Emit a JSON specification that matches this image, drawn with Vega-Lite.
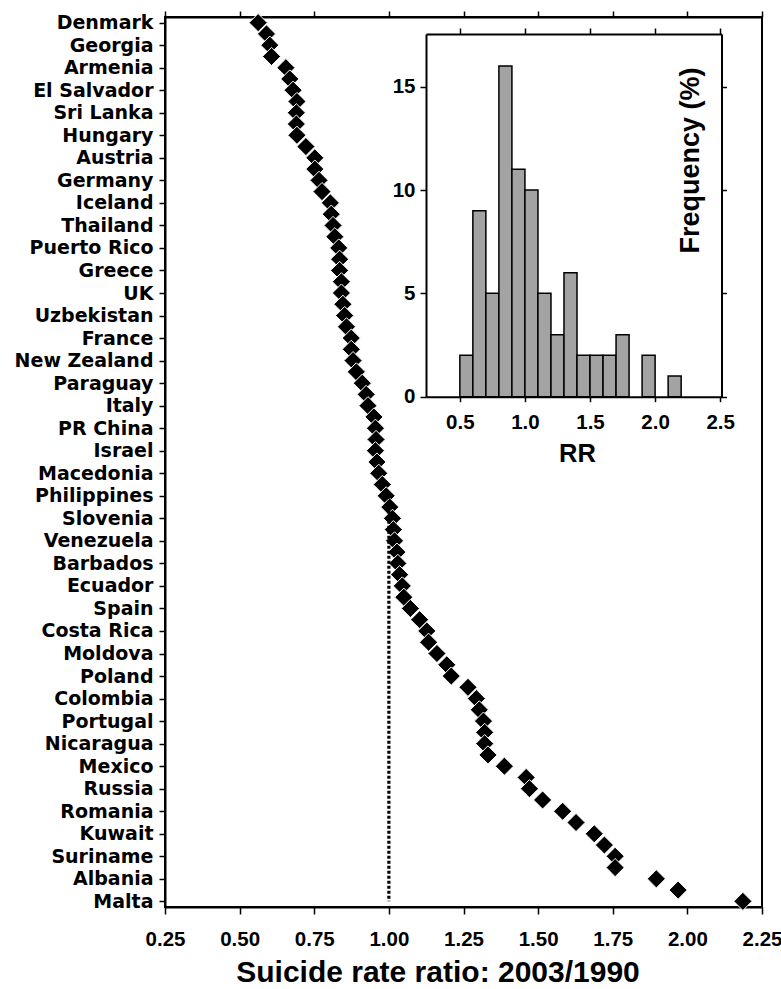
{
  "$schema": "https://vega.github.io/schema/vega-lite/v6.json",
  "width": 597,
  "height": 890,
  "autosize": {"type": "none"},
  "padding": {"left": 165, "top": 17, "right": 19, "bottom": 82},
  "background": "white",
  "datasets": {
    "countries": [
      {"rank": 1, "country": "Denmark", "rr": 0.562},
      {"rank": 2, "country": "#2", "rr": 0.590},
      {"rank": 3, "country": "Georgia", "rr": 0.601},
      {"rank": 4, "country": "#4", "rr": 0.607},
      {"rank": 5, "country": "Armenia", "rr": 0.655},
      {"rank": 6, "country": "#6", "rr": 0.668},
      {"rank": 7, "country": "El Salvador", "rr": 0.679},
      {"rank": 8, "country": "#8", "rr": 0.692},
      {"rank": 9, "country": "Sri Lanka", "rr": 0.690},
      {"rank": 10, "country": "#10", "rr": 0.690},
      {"rank": 11, "country": "Hungary", "rr": 0.692},
      {"rank": 12, "country": "#12", "rr": 0.722},
      {"rank": 13, "country": "Austria", "rr": 0.752},
      {"rank": 14, "country": "#14", "rr": 0.752},
      {"rank": 15, "country": "Germany", "rr": 0.766},
      {"rank": 16, "country": "#16", "rr": 0.776},
      {"rank": 17, "country": "Iceland", "rr": 0.804},
      {"rank": 18, "country": "#18", "rr": 0.807},
      {"rank": 19, "country": "Thailand", "rr": 0.813},
      {"rank": 20, "country": "#20", "rr": 0.819},
      {"rank": 21, "country": "Puerto Rico", "rr": 0.832},
      {"rank": 22, "country": "#22", "rr": 0.835},
      {"rank": 23, "country": "Greece", "rr": 0.835},
      {"rank": 24, "country": "#24", "rr": 0.841},
      {"rank": 25, "country": "UK", "rr": 0.841},
      {"rank": 26, "country": "#26", "rr": 0.846},
      {"rank": 27, "country": "Uzbekistan", "rr": 0.852},
      {"rank": 28, "country": "#28", "rr": 0.858},
      {"rank": 29, "country": "France", "rr": 0.874},
      {"rank": 30, "country": "#30", "rr": 0.874},
      {"rank": 31, "country": "New Zealand", "rr": 0.880},
      {"rank": 32, "country": "#32", "rr": 0.891},
      {"rank": 33, "country": "Paraguay", "rr": 0.911},
      {"rank": 34, "country": "#34", "rr": 0.924},
      {"rank": 35, "country": "Italy", "rr": 0.930},
      {"rank": 36, "country": "#36", "rr": 0.950},
      {"rank": 37, "country": "PR China", "rr": 0.955},
      {"rank": 38, "country": "#38", "rr": 0.957},
      {"rank": 39, "country": "Israel", "rr": 0.955},
      {"rank": 40, "country": "#40", "rr": 0.960},
      {"rank": 41, "country": "Macedonia", "rr": 0.966},
      {"rank": 42, "country": "#42", "rr": 0.978},
      {"rank": 43, "country": "Philippines", "rr": 0.991},
      {"rank": 44, "country": "#44", "rr": 1.003},
      {"rank": 45, "country": "Slovenia", "rr": 1.012},
      {"rank": 46, "country": "#46", "rr": 1.015},
      {"rank": 47, "country": "Venezuela", "rr": 1.019},
      {"rank": 48, "country": "#48", "rr": 1.027},
      {"rank": 49, "country": "Barbados", "rr": 1.030},
      {"rank": 50, "country": "#50", "rr": 1.036},
      {"rank": 51, "country": "Ecuador", "rr": 1.045},
      {"rank": 52, "country": "#52", "rr": 1.050},
      {"rank": 53, "country": "Spain", "rr": 1.072},
      {"rank": 54, "country": "#54", "rr": 1.103},
      {"rank": 55, "country": "Costa Rica", "rr": 1.127},
      {"rank": 56, "country": "#56", "rr": 1.133},
      {"rank": 57, "country": "Moldova", "rr": 1.161},
      {"rank": 58, "country": "#58", "rr": 1.194},
      {"rank": 59, "country": "Poland", "rr": 1.209},
      {"rank": 60, "country": "#60", "rr": 1.265},
      {"rank": 61, "country": "Colombia", "rr": 1.293},
      {"rank": 62, "country": "#62", "rr": 1.303},
      {"rank": 63, "country": "Portugal", "rr": 1.317},
      {"rank": 64, "country": "#64", "rr": 1.321},
      {"rank": 65, "country": "Nicaragua", "rr": 1.321},
      {"rank": 66, "country": "#66", "rr": 1.332},
      {"rank": 67, "country": "Mexico", "rr": 1.387},
      {"rank": 68, "country": "#68", "rr": 1.460},
      {"rank": 69, "country": "Russia", "rr": 1.471},
      {"rank": 70, "country": "#70", "rr": 1.515},
      {"rank": 71, "country": "Romania", "rr": 1.582},
      {"rank": 72, "country": "#72", "rr": 1.627},
      {"rank": 73, "country": "Kuwait", "rr": 1.688},
      {"rank": 74, "country": "#74", "rr": 1.722},
      {"rank": 75, "country": "Suriname", "rr": 1.758},
      {"rank": 76, "country": "#76", "rr": 1.758},
      {"rank": 77, "country": "Albania", "rr": 1.896},
      {"rank": 78, "country": "#78", "rr": 1.969},
      {"rank": 79, "country": "Malta", "rr": 2.186}
    ],
    "hist": [
      {"bin_start": 0.5, "bin_end": 0.6, "pct": 2},
      {"bin_start": 0.6, "bin_end": 0.7, "pct": 9},
      {"bin_start": 0.7, "bin_end": 0.8, "pct": 5},
      {"bin_start": 0.8, "bin_end": 0.9, "pct": 16},
      {"bin_start": 0.9, "bin_end": 1.0, "pct": 11},
      {"bin_start": 1.0, "bin_end": 1.1, "pct": 10},
      {"bin_start": 1.1, "bin_end": 1.2, "pct": 5},
      {"bin_start": 1.2, "bin_end": 1.3, "pct": 3},
      {"bin_start": 1.3, "bin_end": 1.4, "pct": 6},
      {"bin_start": 1.4, "bin_end": 1.5, "pct": 2},
      {"bin_start": 1.5, "bin_end": 1.6, "pct": 2},
      {"bin_start": 1.6, "bin_end": 1.7, "pct": 2},
      {"bin_start": 1.7, "bin_end": 1.8, "pct": 3},
      {"bin_start": 1.9, "bin_end": 2.0, "pct": 2},
      {"bin_start": 2.1, "bin_end": 2.2, "pct": 1}
    ]
  },
  "layer": [
    {
      "layer": [
        {
          "data": {"name": "countries"},
          "mark": {"type": "point", "shape": "diamond", "filled": true, "fill": "black", "stroke": "white", "strokeWidth": 1, "size": 330, "opacity": 1},
          "encoding": {
            "x": {"field": "rr", "type": "quantitative",
              "scale": {"domain": [0.25, 2.25], "nice": false, "zero": false},
              "axis": {"orient": "bottom", "values": [0.25, 0.5, 0.75, 1, 1.25, 1.5, 1.75, 2, 2.25], "format": ".2f",
                "tickSize": 7, "labelBaseline": "alphabetic", "labelPadding": 31, "labelFontSize": 20.5, "labelFlush": false,
                "title": "Suicide rate ratio: 2003/1990", "titleFontSize": 30, "titleBaseline": "alphabetic", "titleY": 74, "titleX": 272.5}},
            "y": {"field": "country", "type": "nominal", "sort": null, "scale": {"type": "point", "padding": 0.5},
              "axis": {"orient": "left", "title": null, "tickSize": 6, "labelPadding": 6,
                "labelFont": "DejaVu Sans", "labelFontSize": 19, "labelFontWeight": "bold",
                "labelExpr": "indexof(datum.label, '#') === 0 ? '' : datum.label",
                "tickOpacity": {"condition": {"test": "indexof(datum.value, '#') === 0", "value": 0}, "value": 1}}},
            "order": {"field": "rank", "type": "quantitative"}
          }
        },
        {
          "data": {"name": "countries"},
          "transform": [{"filter": "datum.rank >= 43"}],
          "mark": {"type": "line", "color": "black", "strokeWidth": 3.2, "strokeDash": [3, 2]},
          "encoding": {
            "x": {"datum": 1, "type": "quantitative",
              "scale": {"domain": [0.25, 2.25], "nice": false, "zero": false},
              "axis": {"orient": "top", "values": [0.25, 0.5, 0.75, 1, 1.25, 1.5, 1.75, 2, 2.25], "labels": false, "tickSize": 6, "title": null}},
            "y": {"field": "country", "type": "nominal", "sort": null, "scale": {"type": "point", "padding": 0.5},
              "axis": {"orient": "left", "title": null, "tickSize": 6, "labelPadding": 6,
                "labelFont": "DejaVu Sans", "labelFontSize": 19, "labelFontWeight": "bold",
                "labelExpr": "indexof(datum.label, '#') === 0 ? '' : datum.label",
                "tickOpacity": {"condition": {"test": "indexof(datum.value, '#') === 0", "value": 0}, "value": 1}}},
            "order": {"field": "rank", "type": "quantitative"}
          }
        }
      ],
      "resolve": {"axis": {"x": "independent"}}
    },
    {
      "data": {"name": "hist"},
      "layer": [
        {
          "mark": {"type": "bar", "fill": "#a3a3a3", "stroke": "black", "strokeWidth": 1.5},
          "encoding": {
            "x": {"field": "bin_start", "type": "quantitative",
              "scale": {"domain": [0.24, 2.51], "range": [261, 556.5], "nice": false, "zero": false},
              "axis": {"orient": "bottom", "offset": -510.3, "values": [0.5, 1, 1.5, 2, 2.5], "format": ".1f",
                "tickSize": 5, "labelBaseline": "alphabetic", "labelPadding": 26.5, "labelFontSize": 20.5, "labelFlush": false,
                "title": "RR", "titleFontSize": 25.5, "titleBaseline": "alphabetic", "titleY": 65, "titleX": 412}},
            "x2": {"field": "bin_end"},
            "y": {"field": "pct", "type": "quantitative",
              "scale": {"domain": [0, 17.55], "range": [379.7, 17], "nice": false},
              "axis": {"orient": "left", "offset": -261, "values": [0, 5, 10, 15], "tickSize": 6, "labelPadding": 5, "labelFontSize": 20.5, "title": null}},
            "y2": {"datum": 0}
          }
        },
        {
          "mark": {"type": "bar", "opacity": 0},
          "encoding": {
            "x": {"field": "bin_start", "type": "quantitative",
              "scale": {"domain": [0.24, 2.51], "range": [261, 556.5], "nice": false, "zero": false},
              "axis": {"orient": "top", "offset": -17, "values": [0.5, 1, 1.5, 2, 2.5], "labels": false, "tickSize": 6, "title": null}},
            "x2": {"field": "bin_end"},
            "y": {"field": "pct", "type": "quantitative",
              "scale": {"domain": [0, 17.55], "range": [379.7, 17], "nice": false},
              "axis": {"orient": "right", "offset": -40.5, "values": [0, 5, 10, 15], "labels": false, "tickSize": 5,
                "title": "Frequency (%)", "titleFontSize": 27, "titleAngle": 270, "titleX": -23, "titleY": 143,
                "titleAlign": "center", "titleBaseline": "alphabetic"}},
            "y2": {"datum": 0}
          }
        }
      ],
      "resolve": {"axis": {"x": "independent", "y": "independent"}}
    }
  ],
  "resolve": {
    "scale": {"x": "independent", "y": "independent"},
    "axis": {"x": "independent", "y": "independent"}
  },
  "config": {
    "view": {"stroke": "black", "strokeWidth": 2},
    "axis": {
      "grid": false,
      "domainColor": "black", "domainWidth": 2,
      "tickColor": "black", "tickWidth": 1.5,
      "labelColor": "black", "titleColor": "black",
      "labelFont": "Liberation Sans", "titleFont": "Liberation Sans",
      "labelFontWeight": "bold", "titleFontWeight": "bold"
    }
  }
}
